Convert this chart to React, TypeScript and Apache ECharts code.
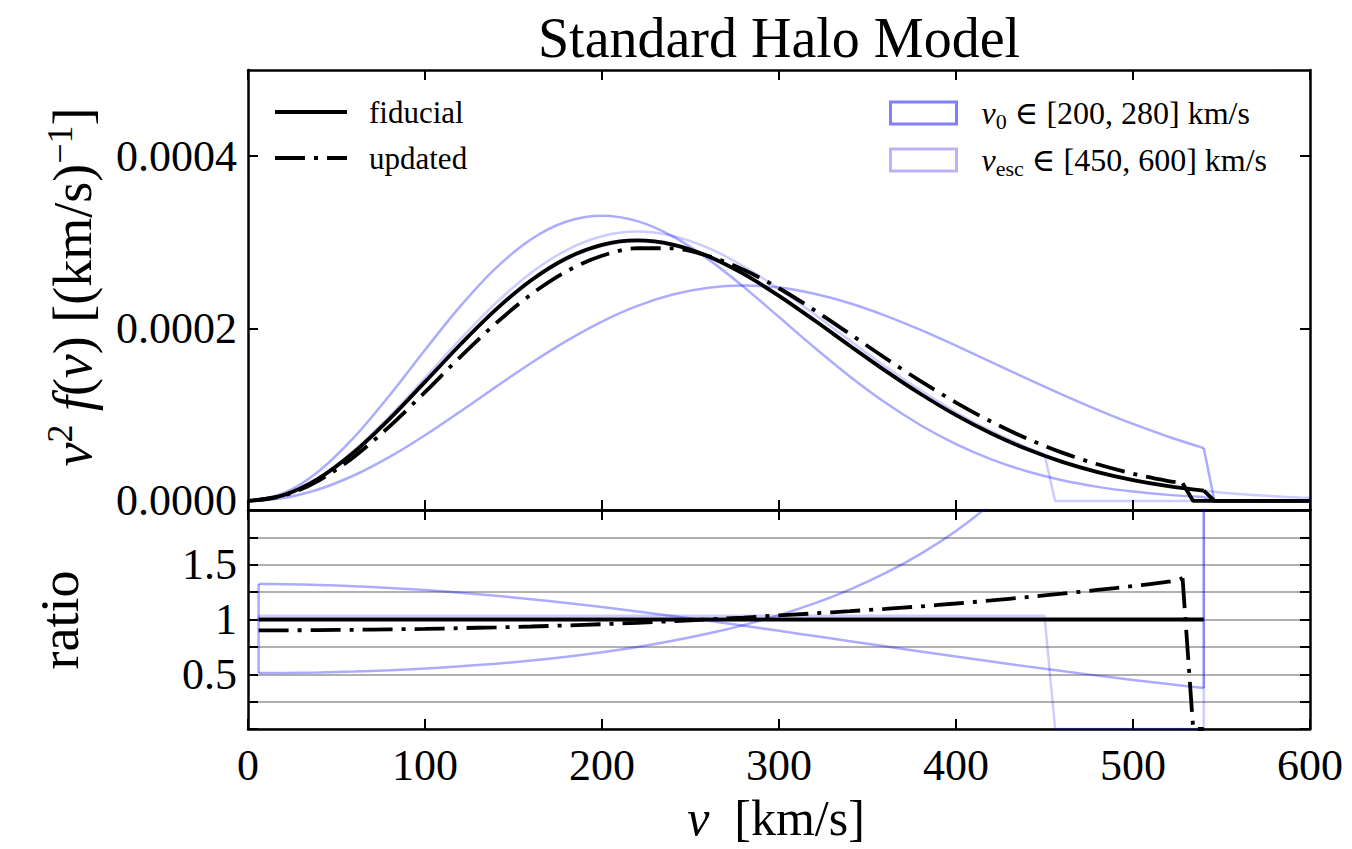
import React, { useEffect, useRef } from 'react';
import * as echarts from 'echarts';

const FONT = "'Liberation Serif', 'DejaVu Serif', serif";
const SCALE = 1e-4;

// ---- top panel: v^2 f(v) in units of 1e-4 (km/s)^-1 ----
const speedsMain = [0, 20, 40, 60, 80, 100, 120, 140, 160, 180, 200, 220, 240, 260, 280, 300, 320, 340, 360, 380, 400, 420, 440, 460, 480, 500, 520, 540, 546, 600];
const fiducial = [0, 0.06735, 0.2628, 0.5674, 0.952, 1.3809, 1.8157, 2.2196, 2.561, 2.8165, 2.9719, 3.023, 2.9749, 2.8396, 2.6347, 2.3799, 2.0958, 1.8012, 1.5121, 1.241, 0.9961, 0.7826, 0.602, 0.4536, 0.335, 0.2424, 0.172, 0.1197, 0, 0];
const v0Low = [0, 0.08907, 0.3458, 0.7401, 1.2267, 1.7518, 2.2598, 2.7009, 3.0362, 3.242, 3.3099, 3.2463, 3.0697, 2.8056, 2.484, 2.1337, 1.7805, 1.4451, 1.1416, 0.8787, 0.6591, 0.4823, 0.3443, 0.2399, 0.1633, 0.1085, 0.0705, 0.0448, 0, 0];
const v0High = [0, 0.0345, 0.1359, 0.2981, 0.5113, 0.7631, 1.0389, 1.3233, 1.601, 1.8579, 2.0818, 2.263, 2.3951, 2.4742, 2.5003, 2.4754, 2.4044, 2.2938, 2.151, 1.9845, 1.802, 1.6117, 1.4204, 1.2339, 1.0574, 0.8933, 0.7448, 0.6129, 0, 0];

const speedsUpdated = [0, 20, 40, 60, 80, 100, 120, 140, 160, 180, 200, 220, 240, 260, 280, 300, 320, 340, 360, 380, 400, 420, 440, 460, 480, 500, 520, 528, 534, 600];
const updated = [0, 0.06068, 0.2373, 0.5141, 0.8663, 1.2621, 1.6723, 2.0598, 2.3971, 2.6644, 2.8441, 2.9323, 2.9303, 2.8424, 2.6821, 2.468, 2.2132, 1.9381, 1.6588, 1.3899, 1.1415, 0.9188, 0.7248, 0.5606, 0.4255, 0.3163, 0.2313, 0.2056, 0, 0];

const speedsEsc450 = [0, 20, 40, 60, 80, 100, 120, 140, 160, 180, 200, 220, 240, 260, 280, 300, 320, 340, 360, 380, 400, 420, 440, 450, 456, 600];
const vesc450 = [0, 0.06962, 0.2716, 0.5865, 0.9841, 1.4274, 1.8768, 2.2943, 2.6472, 2.9113, 3.072, 3.1248, 3.0751, 2.9352, 2.7234, 2.46, 2.1664, 1.8618, 1.563, 1.2828, 1.0296, 0.809, 0.6223, 0.5416, 0, 0];

const speedsEsc600 = [0, 20, 40, 60, 80, 100, 120, 140, 160, 180, 200, 220, 240, 260, 280, 300, 320, 340, 360, 380, 400, 420, 440, 460, 480, 500, 520, 540, 560, 580, 594, 600];
const vesc600 = [0, 0.06703, 0.2616, 0.5647, 0.9475, 1.3744, 1.8071, 2.2091, 2.5489, 2.8032, 2.9579, 3.0088, 2.9609, 2.8262, 2.6223, 2.3687, 2.0859, 1.7927, 1.505, 1.2352, 0.9914, 0.7789, 0.5992, 0.4515, 0.3334, 0.2413, 0.1712, 0.1191, 0.0813, 0.0545, 0.0407, 0.0358];

// ---- bottom panel: ratio to fiducial ----
const speedsRatio = [6, 20, 40, 60, 80, 100, 120, 140, 160, 180, 200, 220, 240, 260, 280, 300, 320, 340, 360, 380, 400, 420, 440, 460, 480, 500, 520, 540];
const ratioV0Low = [1.3246, 1.3225, 1.3157, 1.3043, 1.2886, 1.2686, 1.2446, 1.2168, 1.1856, 1.1511, 1.1137, 1.0739, 1.0319, 0.988, 0.9428, 0.8965, 0.8496, 0.8023, 0.755, 0.708, 0.6617, 0.6163, 0.572, 0.529, 0.4875, 0.4478, 0.4099, 0.3738];
const ratioV0High = [0.5107, 0.5122, 0.5171, 0.5253, 0.5371, 0.5526, 0.5722, 0.5962, 0.6251, 0.6597, 0.7005, 0.7486, 0.8051, 0.8713, 0.949, 1.0401, 1.1473, 1.2735, 1.4225, 1.5991, 1.809, 2.0595, 2.3595, 2.7204, 3.1564, 3.6853, 4.3305, 5.1203];

const speedsRatioEscLow = [6, 450, 456, 540];
const ratioEscLow = [1.0337, 1.0337, 0, 0];
const speedsRatioEscHigh = [6, 540, 540];
const ratioEscHigh = [0.9953, 0.9953, 2.5];

const speedsRatioFid = [6, 540];
const ratioFid = [1, 1];

const speedsRatioUpdated = [6, 20, 40, 60, 80, 100, 120, 140, 160, 180, 200, 220, 240, 260, 280, 300, 320, 340, 360, 380, 400, 420, 440, 460, 480, 500, 520, 528, 534, 540];
const ratioUpdated = [0.9, 0.901, 0.903, 0.906, 0.91, 0.914, 0.921, 0.928, 0.936, 0.946, 0.957, 0.97, 0.985, 1.001, 1.018, 1.037, 1.056, 1.076, 1.097, 1.12, 1.146, 1.174, 1.204, 1.236, 1.27, 1.305, 1.345, 1.378, 0, 0];

const xTicks = [0, 100, 200, 300, 400, 500, 600];
const yTopTicks = [0, 0.0002, 0.0004];
const ratioLabels = [0.5, 1, 1.5];

const V0_LINE = 'rgba(0,0,255,0.33)';
const V0_LEG = 'rgba(0,0,255,0.5)';
const ESC_LINE = 'rgba(0,0,255,0.2)';
const ESC_LEG = 'rgba(40,0,230,0.3)';
const DASHDOT = [30, 9, 4, 9];
const SMOOTH = 0.33;

function pairs(xs: number[], ys: number[], s = 1) {
  return xs.map((x, i) => [x, ys[i] * s]);
}

export default function App() {
  const ref = useRef<HTMLDivElement>(null);
  useEffect(() => {
    if (!ref.current) return;
    const chart = echarts.init(ref.current, null, { renderer: 'svg' });
    const axisLine = { show: true, onZero: false, lineStyle: { color: '#000', width: 2.5 } };
    const tick = { show: true, inside: true, length: 10, lineStyle: { color: '#000', width: 2 } };
    const labelFont = { fontFamily: FONT, fontSize: 44, color: '#000' };

    const xAxisBase = (gridIndex: number, position: string, labels: boolean) => ({
      type: 'value', gridIndex, position, min: 0, max: 600, interval: 100,
      axisLine, axisTick: { ...tick, customValues: xTicks },
      axisLabel: labels ? { show: true, ...labelFont, margin: 14, customValues: xTicks } : { show: false },
      splitLine: { show: false },
    });

    const line = (name: string, axis: number, data: any[], color: string, width: number, smooth: boolean, z: number, dash?: number[]) => ({
      type: 'line', name, xAxisIndex: axis, yAxisIndex: axis, symbol: 'none', silent: true,
      smooth: smooth ? SMOOTH : false, data, z,
      lineStyle: { color, width, type: dash || 'solid' }, itemStyle: { color },
    });

    // top panel pieces
    const cut = speedsMain.lastIndexOf(540);
    const fidPts = pairs(speedsMain, fiducial, SCALE);
    const lowPts = pairs(speedsMain, v0Low, SCALE);
    const highPts = pairs(speedsMain, v0High, SCALE);
    const updCut = speedsUpdated.lastIndexOf(528);
    const updPts = pairs(speedsUpdated, updated, SCALE);
    const escCut = speedsEsc450.lastIndexOf(450);
    const esc450Pts = pairs(speedsEsc450, vesc450, SCALE);
    const esc600Pts = pairs(speedsEsc600, vesc600, SCALE);

    // bottom panel pieces
    const rLow = pairs(speedsRatio, ratioV0Low);
    const rHigh = pairs(speedsRatio, ratioV0High);
    const rUpdCut = speedsRatioUpdated.lastIndexOf(528);
    const rUpd = pairs(speedsRatioUpdated, ratioUpdated);
    const escLow = pairs(speedsRatioEscLow, ratioEscLow);
    const escHigh = pairs(speedsRatioEscHigh, ratioEscHigh);
    const escBand = [...escLow, ...escHigh.slice().reverse(), escLow[0]];

    const option: any = {
      animation: false,
      backgroundColor: '#fff',
      grid: [
        { left: 248, top: 70, width: 1062, height: 440 },
        { left: 248, top: 510, width: 1062, height: 219 },
      ],
      xAxis: [
        xAxisBase(0, 'bottom', false),
        xAxisBase(0, 'top', false),
        xAxisBase(1, 'bottom', true),
        xAxisBase(1, 'top', false),
      ],
      yAxis: [
        {
          type: 'value', gridIndex: 0, position: 'left', min: -0.0000105, max: 0.0005,
          axisLine, axisTick: { ...tick, customValues: yTopTicks },
          axisLabel: { show: true, ...labelFont, margin: 11, customValues: yTopTicks, formatter: (v: number) => v.toFixed(4) },
          splitLine: { show: false },
        },
        {
          type: 'value', gridIndex: 0, position: 'right', min: -0.0000105, max: 0.0005,
          axisLine, axisTick: { ...tick, customValues: yTopTicks },
          axisLabel: { show: false }, splitLine: { show: false },
        },
        {
          type: 'value', gridIndex: 1, position: 'left', min: 0, max: 2, interval: 0.25,
          axisLine, axisTick: tick,
          axisLabel: {
            show: true, ...labelFont, margin: 11,
            formatter: (v: number) => (ratioLabels.indexOf(v) >= 0 ? String(v) : ''),
          },
          splitLine: { show: true, lineStyle: { color: '#b0b0b0', width: 2 } },
        },
        {
          type: 'value', gridIndex: 1, position: 'right', min: 0, max: 2, interval: 0.25,
          axisLine, axisTick: tick, axisLabel: { show: false }, splitLine: { show: false },
        },
      ],
      legend: [
        {
          left: 273, top: 95, orient: 'vertical', padding: 0, itemGap: 12,
          itemWidth: 72, itemHeight: 14,
          data: [
            { name: 'fiducial', itemStyle: { opacity: 0 }, lineStyle: { width: 4, color: '#000' } },
            { name: 'updated', itemStyle: { opacity: 0 }, lineStyle: { width: 4, color: '#000', type: DASHDOT } },
          ],
          itemStyle: { opacity: 0 },
          lineStyle: { width: 4 },
          textStyle: { fontFamily: FONT, fontSize: 31, color: '#000', lineHeight: 34, padding: [0, 0, 0, 17] },
          selectedMode: false,
        },
        {
          left: 889, top: 94, orient: 'vertical', padding: 0, itemGap: 9,
          itemWidth: 66, itemHeight: 22,
          data: [
            { name: 'v0', icon: 'rect', itemStyle: { color: 'rgba(0,0,0,0)', borderColor: V0_LEG, borderWidth: 3 } },
            { name: 'vesc', icon: 'rect', itemStyle: { color: 'rgba(0,0,0,0)', borderColor: ESC_LEG, borderWidth: 3 } },
          ],
          formatter: (name: string) =>
            name === 'v0'
              ? '{i|v}{sub|0}{n| ∈ [200, 280] km/s}'
              : '{i|v}{sub|esc}{n| ∈ [450, 600] km/s}',
          textStyle: {
            fontFamily: FONT, fontSize: 32, color: '#000', lineHeight: 38, padding: [0, 0, 0, 20],
            rich: {
              n: { fontFamily: FONT, fontSize: 32, color: '#000', lineHeight: 38 },
              i: { fontFamily: FONT, fontSize: 32, fontStyle: 'italic', color: '#000', lineHeight: 38 },
              sub: { fontFamily: FONT, fontSize: 22, color: '#000', lineHeight: 22, verticalAlign: 'bottom' },
            },
          },
          selectedMode: false,
        },
      ],
      series: [
        // top panel: v0 band
        line('v0', 0, lowPts.slice(0, cut + 1), V0_LINE, 2.5, true, 2),
        line('v0', 0, highPts.slice(0, cut + 1), V0_LINE, 2.5, true, 2),
        line('v0', 0, [...lowPts.slice(cut), ...highPts.slice(cut).reverse()], V0_LINE, 2.5, false, 2),
        // top panel: vesc band
        line('vesc', 0, esc450Pts.slice(0, escCut + 1), ESC_LINE, 2.5, true, 2),
        line('vesc', 0, esc600Pts, ESC_LINE, 2.5, true, 2),
        line('vesc', 0, [...esc450Pts.slice(escCut), esc600Pts[esc600Pts.length - 1]], ESC_LINE, 2.5, false, 2),
        // top panel: fiducial & updated
        line('fiducial', 0, fidPts.slice(0, cut + 1), '#000', 3.8, true, 3),
        line('fiducial', 0, fidPts.slice(cut), '#000', 3.8, false, 3),
        line('updated', 0, updPts.slice(0, updCut + 1), '#000', 3.8, true, 4, DASHDOT),
        line('updated', 0, updPts.slice(updCut), '#000', 3.8, false, 4),
        // bottom panel: v0 band
        line('v0', 2, rLow, V0_LINE, 2.5, true, 2),
        line('v0', 2, rHigh, V0_LINE, 2.5, true, 2),
        line('v0', 2, [rLow[0], rHigh[0]], V0_LINE, 2.5, false, 2),
        line('v0', 2, [rLow[rLow.length - 1], rHigh[rHigh.length - 1]], V0_LINE, 2.5, false, 2),
        // bottom panel: vesc band
        line('vesc', 2, escBand, ESC_LINE, 2.5, false, 2),
        // bottom panel: fiducial & updated ratios
        line('fiducial', 2, pairs(speedsRatioFid, ratioFid), '#000', 3.8, false, 3),
        line('updated', 2, rUpd.slice(0, rUpdCut + 1), '#000', 3.8, true, 4, DASHDOT),
        line('updated', 2, rUpd.slice(rUpdCut), '#000', 3.8, false, 4, DASHDOT),
      ],
      graphic: [
        {
          type: 'text', x: 779, y: 38, silent: true,
          style: {
            text: 'Standard Halo Model', font: `56px ${FONT}`, fill: '#000',
            align: 'center', verticalAlign: 'middle', textAlign: 'center', textVerticalAlign: 'middle',
          },
        },
        {
          type: 'text', x: 73, y: 287, rotation: Math.PI / 2, silent: true,
          style: {
            text: '{i|v}{sup|2}{n| }{i|f}{n|(}{i|v}{n|) [(km/s)}{sup|−1}{n|]}',
            align: 'center', verticalAlign: 'middle', textAlign: 'center', textVerticalAlign: 'middle',
            rich: {
              n: { fontFamily: FONT, fontSize: 54, fill: '#000', lineHeight: 62 },
              i: { fontFamily: FONT, fontSize: 54, fontStyle: 'italic', fill: '#000', lineHeight: 62 },
              sup: { fontFamily: FONT, fontSize: 36, fill: '#000', lineHeight: 34, verticalAlign: 'top' },
            },
          },
        },
        {
          type: 'text', x: 60, y: 620, rotation: Math.PI / 2, silent: true,
          style: {
            text: 'ratio', font: `54px ${FONT}`, fill: '#000',
            align: 'center', verticalAlign: 'middle', textAlign: 'center', textVerticalAlign: 'middle',
          },
        },
        {
          type: 'text', x: 776, y: 818, silent: true,
          style: {
            text: '{i|v}{n|  [km/s]}',
            align: 'center', verticalAlign: 'middle', textAlign: 'center', textVerticalAlign: 'middle',
            rich: {
              n: { fontFamily: FONT, fontSize: 50, fill: '#000' },
              i: { fontFamily: FONT, fontSize: 50, fontStyle: 'italic', fill: '#000' },
            },
          },
        },
      ],
    };
    chart.setOption(option);
    return () => chart.dispose();
  }, []);
  return <div ref={ref} style={{ position: 'absolute', left: 0, top: 0, width: 1352, height: 849 }} />;
}
